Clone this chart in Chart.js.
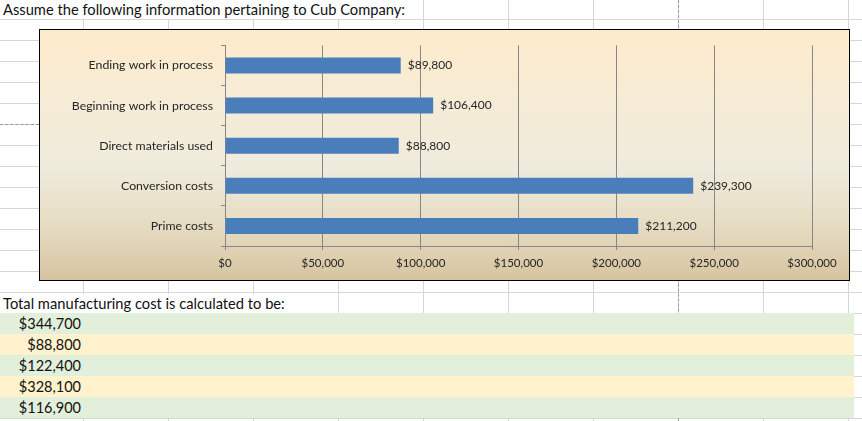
<!DOCTYPE html>
<html>
<head>
<meta charset="utf-8">
<script src="https://cdn.jsdelivr.net/npm/chart.js@4"></script>
<style>
  body { margin: 0; width: 862px; height: 421px; overflow: hidden; background: #fff; font-family: Lato, "Open Sans", sans-serif; }
  .sheet {
    position: absolute; left: 0; top: 0; width: 862px; height: 421px;
    background-image:
      repeating-linear-gradient(90deg, transparent 0, transparent 83px, #d6d6d6 83px, #d6d6d6 84px, transparent 84px, transparent 85px),
      repeating-linear-gradient(180deg, transparent 0, transparent 19px, #d6d6d6 19px, #d6d6d6 20px, transparent 20px, transparent 21px);
  }
  .title { position: absolute; left: 0; top: 0; width: 422px; height: 19px; background: #fff; font-size: 14.7px; line-height: 19px; padding-left: 3px; color: #111; box-sizing: border-box; }
  .question { position: absolute; left: 0; top: 294px; width: 337px; height: 19px; background: #fff; font-size: 14.7px; line-height: 19px; padding-left: 3px; color: #111; box-sizing: border-box; }
  .vbreak { position: absolute; left: 678px; top: 0; width: 0; height: 421px; border-left: 1px dashed #999; }
  .hbreak { position: absolute; left: 0; top: 124px; width: 39px; height: 0; border-top: 1px dashed #999; }
  .chartbox {
    position: absolute; left: 39px; top: 29px; width: 809px; height: 250px; border: 1px solid #000;
    background: linear-gradient(180deg, #feebcc 0%, #f6ecd7 30%, #efebdc 55%, #e6dcc3 78%, #d6c4a0 100%);
  }
  .answers { position: absolute; left: 0; top: 313px; width: 854px; }
  .answers div { height: 21px; line-height: 21px; font-size: 14.5px; color: #111; box-sizing: border-box; width: 854px; }
  .answers span { display: inline-block; width: 81px; text-align: right; }
  .answers div:nth-child(odd) { background: #e2efda; }
  .answers div:nth-child(even) { background: #fff2cc; }
</style>
</head>
<body>
<div class="sheet"></div>
<div class="vbreak"></div>
<div class="hbreak"></div>
<div class="title">Assume the following information pertaining to Cub Company:</div>
<div class="chartbox"><canvas id="costChart" width="809" height="250"></canvas></div>
<div class="question">Total manufacturing cost is calculated to be:</div>
<div class="answers" id="answers"></div>
<script>
// chart data
const categories = ['Ending work in process', 'Beginning work in process', 'Direct materials used', 'Conversion costs', 'Prime costs'];
const costValues = [89800, 106400, 88800, 239300, 211200];
const xTickValues = [0, 50000, 100000, 150000, 200000, 250000, 300000];
const answerChoices = ['$344,700', '$88,800', '$122,400', '$328,100', '$116,900'];

const money = v => '$' + Number(v).toLocaleString('en-US');
const chartFont = 'Lato, "Open Sans", sans-serif';

// answer rows under the chart
const answersEl = document.getElementById('answers');
answerChoices.forEach(a => {
  const row = document.createElement('div');
  const span = document.createElement('span');
  span.textContent = a;
  row.appendChild(span);
  answersEl.appendChild(row);
});

// value labels at the end of each bar
const barLabels = {
  id: 'barLabels',
  afterDatasetsDraw(chart) {
    const ctx = chart.ctx;
    const meta = chart.getDatasetMeta(0);
    ctx.save();
    ctx.font = '12px ' + chartFont;
    ctx.fillStyle = '#262626';
    ctx.textBaseline = 'middle';
    ctx.textAlign = 'left';
    meta.data.forEach((bar, i) => {
      ctx.fillText(money(costValues[i]), bar.x + 7, bar.y);
    });
    ctx.restore();
  }
};

const ctx = document.getElementById('costChart').getContext('2d');
new Chart(ctx, {
  type: 'bar',
  data: {
    labels: categories,
    datasets: [{
      data: costValues,
      backgroundColor: '#4a7ebb',
      barPercentage: 0.4,
      categoryPercentage: 1
    }]
  },
  options: {
    indexAxis: 'y',
    responsive: false,
    animation: false,
    layout: { padding: { top: 15, right: 37, left: 0, bottom: 0 } },
    plugins: { legend: { display: false }, tooltip: { enabled: false } },
    scales: {
      x: {
        min: 0,
        max: 300000,
        afterBuildTicks: scale => { scale.ticks = xTickValues.map(v => ({ value: v })); },
        afterFit: scale => { scale.height = 34; },
        ticks: {
          callback: v => money(v),
          font: { size: 11.5, family: chartFont },
          color: '#262626',
          padding: 6,
          maxRotation: 0
        },
        grid: { color: '#868686', tickLength: 4 },
        border: { color: '#868686' }
      },
      y: {
        afterFit: scale => { scale.width = 185; },
        ticks: {
          font: { size: 12.3, family: chartFont },
          color: '#262626',
          padding: 8
        },
        grid: { offset: true, drawOnChartArea: false, color: '#868686', tickLength: 4 },
        border: { color: '#868686' }
      }
    }
  },
  plugins: [barLabels]
});
</script>
</body>
</html>
